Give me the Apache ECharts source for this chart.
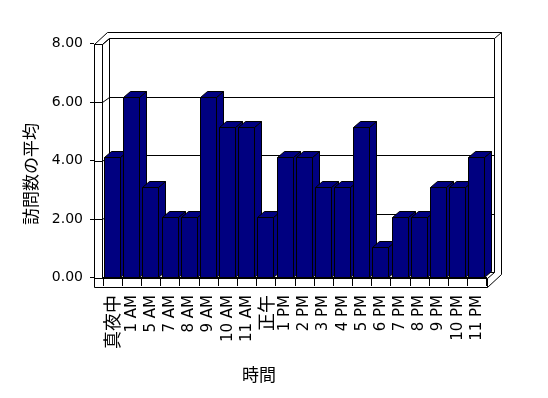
<!DOCTYPE html>
<html>
<head>
<meta charset="utf-8">
<script src="https://cdn.jsdelivr.net/npm/echarts@6/dist/echarts.min.js"></script>
<style>
  html, body { margin: 0; padding: 0; background: #fff; }
  #chart { width: 548px; height: 398px; }
</style>
</head>
<body>
<div id="chart"></div>
<script>
// data
const categories = ['真夜中', '1 AM', '5 AM', '7 AM', '8 AM', '9 AM', '10 AM', '11 AM', '正午',
  '1 PM', '2 PM', '3 PM', '4 PM', '5 PM', '6 PM', '7 PM', '8 PM', '9 PM', '10 PM', '11 PM']
const visits = [4, 6, 3, 2, 2, 6, 5, 5, 2, 4, 4, 3, 3, 5, 1, 2, 2, 3, 3, 4]
const yTicks = [0, 2, 4, 6, 8]
const yTitle = '訪問数の平均'
const xTitle = '時間'

const LATIN = '"DejaVu Sans", "Noto Sans CJK JP"'
const CJK = '"Noto Sans CJK JP"'
const NAVY = '#000080'
const DX = 7.3 // depth of the box
const DY = 5.5
const BDX = 7 // depth of a bar
const BDY = 6

const chart = echarts.init(document.getElementById('chart'))

const px = v => Math.round(v) + 0.5
const lineStyle = { stroke: '#000', lineWidth: 1, fill: null }
const line = pts => ({ type: 'polyline', shape: { points: pts.map(p => [px(p[0]), px(p[1])]) }, style: lineStyle })

// back wall, left wall, floor and the grid lines
function renderFrame(params, api) {
  const v = api.value(1)
  const l = api.coord([0, v])
  const r = api.coord([1, v])
  const L = l[0]
  const R = r[0]
  const y = l[1]
  const kids = []
  if (params.dataIndex === 0) {
    const T = api.coord([0, yTicks[yTicks.length - 1]])[1]
    const B = y
    // back wall
    kids.push(line([[L, T], [L, B]]))
    kids.push(line([[R, T], [R, B]]))
    kids.push(line([[L - 2.3, T - 6], [R + 6.5, T - 6], [R + 6.5, B + 2]]))
    kids.push(line([[R, T], [R + 6.5, T - 6]]))
    // left wall
    kids.push(line([[L - 15, T + 6], [L - 15, B + DY + 9]]))
    kids.push(line([[L - DX, T + 6], [L - DX, B + DY]]))
    kids.push(line([[L - 15, T + 6], [L - DX, T + 6]]))
    kids.push(line([[L - 15, T + 6], [L - 2.3, T - 6]]))
    kids.push(line([[L - DX, T + 6], [L, T]]))
    // floor
    kids.push(line([[L - DX, B + DY], [R - DX, B + DY], [R - DX, B + DY + 9], [L - 15, B + DY + 9]]))
    kids.push(line([[R - DX, B + DY], [R, B]]))
    kids.push(line([[R - DX, B + DY + 9], [R + 6.5, B + 2]]))
  }
  kids.push(line([[L - 15, y + DY], [L - DX, y + DY], [L, y], [R, y]]))
  return { type: 'group', children: kids }
}

function renderBar(params, api) {
  const top = api.coord([api.value(0), api.value(1)])
  const base = api.coord([api.value(0), 0])
  const bw = api.size([1, 0])[0]
  const x0 = px(top[0] - bw / 2 + 1)
  const x1 = x0 + 16
  const yt = px(top[1])
  const yb = px(base[1])
  const st = { fill: NAVY, stroke: '#000', lineWidth: 1 }
  return {
    type: 'group',
    children: [
      { type: 'polygon', shape: { points: [[x1, yb], [x1, yt], [x1 + BDX, yt - BDY], [x1 + BDX, yb - BDY]] }, style: st },
      { type: 'polygon', shape: { points: [[x0, yt], [x0 + BDX, yt - BDY], [x1 + BDX, yt - BDY], [x1, yt]] }, style: st },
      { type: 'rect', shape: { x: x0, y: yt, width: x1 - x0, height: yb - yt }, style: st }
    ]
  }
}

const option = {
  animation: false,
  backgroundColor: '#fff',
  grid: [
    // plane of the bars
    { left: 103, width: 383.5, top: 37, bottom: 121 },
    // front axis with the labels
    { left: 94, right: 54, top: 43.5, bottom: 120.5 },
    // back wall
    { left: 109, right: 54, top: 38, bottom: 126 }
  ],
  xAxis: [
    {
      gridIndex: 0,
      type: 'category',
      data: categories,
      axisLine: { show: true, lineStyle: { color: '#000', width: 1 } },
      axisTick: { show: true, length: 9, lineStyle: { color: '#000', width: 1 } },
      axisLabel: {
        interval: 0,
        rotate: 90,
        margin: 18,
        color: '#000',
        fontFamily: LATIN,
        fontSize: 15,
        formatter: val => /[^\x00-\x7f]/.test(val) ? '{c|' + val + '}' : val,
        rich: { c: { fontFamily: CJK, fontSize: 18, color: '#000' } }
      },
      splitLine: { show: false }
    },
    { gridIndex: 1, type: 'value', min: 0, max: 1, show: false },
    { gridIndex: 2, type: 'value', min: 0, max: 1, show: false }
  ],
  yAxis: [
    { gridIndex: 0, type: 'value', min: 0, max: 8, interval: 2, show: false },
    {
      gridIndex: 1,
      type: 'value',
      min: 0,
      max: 8,
      interval: 2,
      axisLine: { show: false },
      axisTick: { show: true, length: 4, lineStyle: { color: '#000', width: 1 } },
      splitLine: { show: false },
      axisLabel: {
        margin: 11,
        color: '#000',
        fontFamily: LATIN,
        fontSize: 14,
        formatter: v => v.toFixed(2)
      }
    },
    { gridIndex: 2, type: 'value', min: 0, max: 8, interval: 2, show: false }
  ],
  graphic: [
    {
      type: 'text',
      x: 31,
      y: 174,
      rotation: Math.PI / 2,
      style: { text: yTitle, fill: '#000', font: '17px ' + CJK, align: 'center', verticalAlign: 'middle' }
    },
    {
      type: 'text',
      x: 259,
      y: 375,
      style: { text: xTitle, fill: '#000', font: '17px ' + CJK, align: 'center', verticalAlign: 'middle' }
    }
  ],
  series: [
    {
      type: 'custom',
      xAxisIndex: 2,
      yAxisIndex: 2,
      silent: true,
      z: 1,
      data: yTicks.map(v => [0, v]),
      renderItem: renderFrame
    },
    {
      type: 'custom',
      xAxisIndex: 0,
      yAxisIndex: 0,
      silent: true,
      z: 5,
      data: visits.map((v, i) => [i, v]),
      renderItem: renderBar
    }
  ]
}

chart.setOption(option)
</script>
</body>
</html>
